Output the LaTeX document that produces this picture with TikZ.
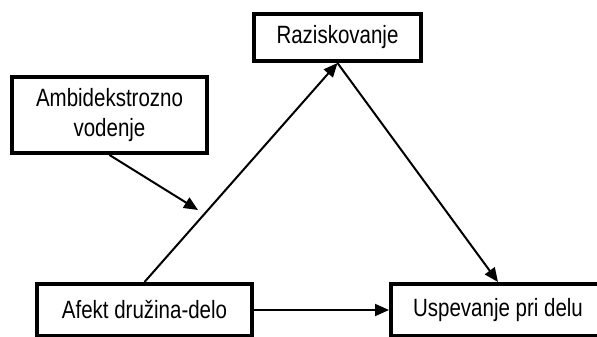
\documentclass[tikz,border=0pt]{standalone}
\usepackage{fontspec}
\setmainfont[FakeStretch=0.82]{Liberation Sans}
\usetikzlibrary{arrows.meta,calc}
\begin{document}
\begin{tikzpicture}[x=1pt,y=-1pt,
  box/.style={draw=black,line width=4pt,fill=white,rectangle,inner sep=0pt,
    font=\fontsize{25}{30}\selectfont,align=center},
  conn/.style={line width=2pt,-{Triangle[length=14pt,width=12pt]}}]
\useasboundingbox (0,0) rectangle (597,337);
\node[box,minimum width=167pt,minimum height=47pt] (raz) at (337.5,37.5) {Raziskovanje};
\node[box,minimum width=195pt,minimum height=76pt] (amb) at (109.5,115) {Ambidekstrozno\\vodenje};
\node[box,minimum width=215pt,minimum height=52pt] (afe) at (144.5,310) {Afekt družina-delo};
\node[box,minimum width=214pt,minimum height=52pt] (usp) at (498,310) {Uspevanje pri delu};
\coordinate (mid) at (198,210);
\draw[conn] (afe.north) -- (raz.south);
\draw[conn] (raz.south) -- (usp.north);
\draw[conn] (afe.east) -- (usp.west);
\draw[conn] (amb.south) -- (mid);
\end{tikzpicture}
\end{document}
